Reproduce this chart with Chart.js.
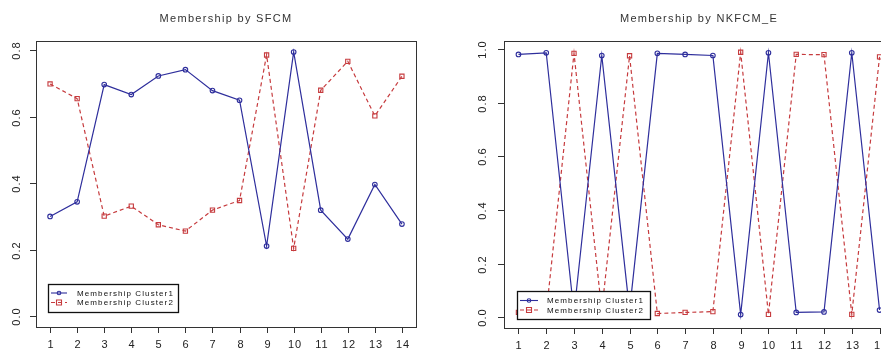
<!DOCTYPE html>
<html>
<head>
<meta charset="utf-8">
<script src="https://cdn.jsdelivr.net/npm/chart.js@4/dist/chart.umd.min.js"></script>
<style>
html,body{margin:0;padding:0;background:#fff;overflow:hidden;width:881px;height:351px;}
canvas{position:absolute;top:0;}
#c1{left:0;}
#c2{left:440px;}
</style>
</head>
<body>
<canvas id="c1" width="440" height="351"></canvas>
<canvas id="c2" width="480" height="351"></canvas>
<script>
// ---- data ----
const xLabels = [1,2,3,4,5,6,7,8,9,10,11,12,13,14];
const seriesNames = ["Membership Cluster1", "Membership Cluster2"];

const sfcmTitle = "Membership by SFCM";
const sfcmCluster1 = [0.300,0.344,0.696,0.666,0.722,0.741,0.678,0.649,0.211,0.794,0.319,0.232,0.396,0.277];
const sfcmCluster2 = [0.698,0.654,0.301,0.331,0.275,0.256,0.319,0.348,0.785,0.204,0.679,0.766,0.602,0.721];
const sfcmYTicks = [0.0,0.2,0.4,0.6,0.8];

const nkfcmTitle = "Membership by NKFCM_E";
const nkfcmCluster1 = [0.980,0.986,0.016,0.976,0.025,0.984,0.980,0.976,0.010,0.986,0.018,0.020,0.986,0.027];
const nkfcmCluster2 = [0.018,0.015,0.984,0.024,0.975,0.014,0.018,0.021,0.988,0.011,0.980,0.979,0.011,0.971];
const nkfcmYTicks = [0.0,0.2,0.4,0.6,0.8,1.0];

// ---- styling ----
const BLUE = "#2e2e9c";
const RED = "#c63b3e";
const FONT = "'Liberation Sans', Arial, sans-serif";

function pts(vals){ return vals.map((v,i)=>({x:xLabels[i], y:v})); }

const rPlotPlugin = {
  id: 'rPlot',
  afterDraw(chart, args, o) {
    const ctx = chart.ctx;
    const a = chart.chartArea;
    const xs = chart.scales.x, ys = chart.scales.y;
    ctx.save();
    // box
    ctx.strokeStyle = "#333";
    ctx.lineWidth = 1;
    ctx.setLineDash([]);
    ctx.strokeRect(Math.round(a.left)+0.5, Math.round(a.top)+0.5, Math.round(a.right-a.left), Math.round(a.bottom-a.top));
    // x ticks
    ctx.fillStyle = "#222";
    ctx.font = "11px " + FONT;
    ctx.letterSpacing = "1px";
    ctx.textAlign = "center";
    ctx.textBaseline = "middle";
    xLabels.forEach(v => {
      const px = Math.round(xs.getPixelForValue(v)) + 0.5;
      ctx.beginPath(); ctx.moveTo(px, a.bottom); ctx.lineTo(px, a.bottom+6); ctx.stroke();
      ctx.fillText(String(v), px+0.5, a.bottom+18);
    });
    // y ticks
    o.yTicks.forEach(v => {
      const py = Math.round(ys.getPixelForValue(v)) + 0.5;
      ctx.beginPath(); ctx.moveTo(a.left, py); ctx.lineTo(a.left-6, py); ctx.stroke();
      ctx.save();
      ctx.translate(a.left-o.yLabelOff, py);
      ctx.rotate(-Math.PI/2);
      ctx.fillText(v.toFixed(1), 0, 0);
      ctx.restore();
    });
    // title
    ctx.fillStyle = "#333";
    ctx.font = "11px " + FONT;
    ctx.letterSpacing = "1.3px";
    ctx.fillText(o.title, (a.left+a.right)/2, 19);
    // legend
    const L = o.legend;
    const lx = a.left + L.dx, ly = a.bottom - L.dy - L.h;
    ctx.fillStyle = "#fff";
    ctx.fillRect(lx, ly, L.w, L.h);
    ctx.strokeStyle = "#111";
    ctx.lineWidth = 1.3;
    ctx.strokeRect(lx+0.5, ly+0.5, L.w, L.h);
    chart.data.datasets.forEach((ds, i) => {
      const ry = ly + L.row0 + i*9.5;
      ctx.strokeStyle = ds.borderColor;
      ctx.lineWidth = 1.1;
      ctx.setLineDash(ds.borderDash || []);
      ctx.beginPath(); ctx.moveTo(lx+L.s0, ry); ctx.lineTo(lx+L.s1, ry); ctx.stroke();
      ctx.setLineDash([]);
      const mx = (lx+L.s0+lx+L.s1)/2;
      ctx.beginPath();
      if (ds.pointStyle === 'rect') { ctx.rect(mx-2.5, ry-2.5, 5, 5); }
      else { ctx.arc(mx, ry, 1.8, 0, Math.PI*2); }
      ctx.stroke();
      ctx.fillStyle = "#111";
      ctx.font = "8px " + FONT;
      ctx.letterSpacing = "1.1px";
      ctx.textAlign = "left";
      ctx.fillText(seriesNames[i], lx+L.t0, ry+0.5);
    });
    ctx.restore();
  }
};

function makeChart(id, c1, c2, yMin, yMax, pad, opts) {
  return new Chart(document.getElementById(id), {
    type: 'line',
    data: {
      datasets: [
        { label: seriesNames[0], data: pts(c1), borderColor: BLUE, borderWidth: 1.2,
          pointStyle: 'circle', pointRadius: 2.3, pointBorderWidth: 1.1,
          pointBackgroundColor: 'rgba(0,0,0,0)', pointBorderColor: BLUE, tension: 0 },
        { label: seriesNames[1], data: pts(c2), borderColor: RED, borderWidth: 1.2, borderDash: [4,3],
          pointStyle: 'rect', pointRadius: 3, pointBorderWidth: 1.1,
          pointBackgroundColor: 'rgba(0,0,0,0)', pointBorderColor: RED, tension: 0 }
      ]
    },
    options: {
      responsive: false,
      animation: false,
      devicePixelRatio: 1,
      layout: { padding: pad },
      scales: {
        x: { type: 'linear', min: 0.48, max: 14.52, display: false },
        y: { type: 'linear', min: yMin, max: yMax, display: false }
      },
      plugins: {
        legend: { display: false },
        tooltip: { enabled: false },
        rPlot: opts
      }
    },
    plugins: [rPlotPlugin]
  });
}

makeChart('c1', sfcmCluster1, sfcmCluster2, -0.032, 0.827,
  { left: 36, right: 24, top: 41, bottom: 24 },
  { title: sfcmTitle, yTicks: sfcmYTicks, yLabelOff: 19,
    legend: { dx: 12, dy: 15, w: 130, h: 28, s0: 3, s1: 19, t0: 29, row0: 9 } });

makeChart('c2', nkfcmCluster1, nkfcmCluster2, -0.04, 1.03,
  { left: 64, right: 26, top: 41, bottom: 23 },
  { title: nkfcmTitle, yTicks: nkfcmYTicks, yLabelOff: 21,
    legend: { dx: 13, dy: 9, w: 133, h: 28, s0: 3, s1: 21, t0: 30, row0: 9.5 } });
</script>
</body>
</html>
